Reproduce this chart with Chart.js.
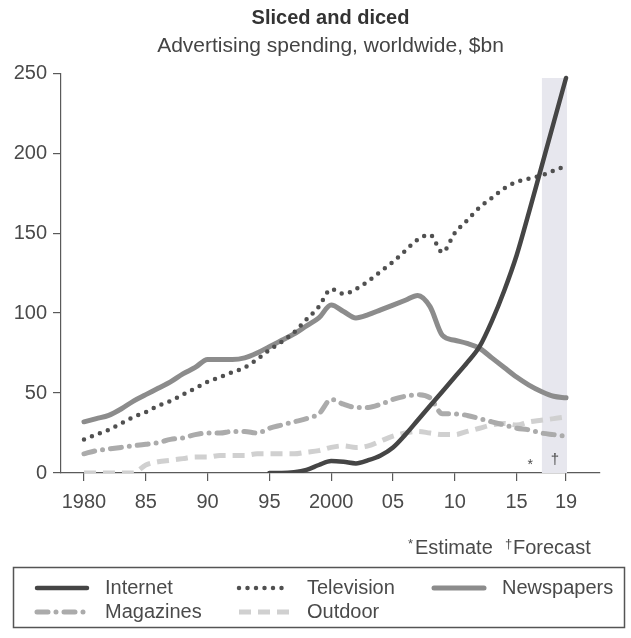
<!DOCTYPE html>
<html>
<head>
<meta charset="utf-8">
<title>Sliced and diced</title>
<script src="https://cdn.jsdelivr.net/npm/chart.js@4.4.1/dist/chart.umd.min.js"></script>
<style>
  html, body { margin: 0; padding: 0; background: #fff; }
  #wrap { width: 631px; height: 638px; }
</style>
</head>
<body>
<div id="wrap"><canvas id="adChart" width="631" height="638"></canvas></div>
<script>
// Advertising spending, worldwide, $bn
const years = [1980, 1981, 1982, 1983, 1984, 1985, 1986, 1987, 1988, 1989,
               1990, 1991, 1992, 1993, 1994, 1995, 1996, 1997, 1998, 1999,
               2000, 2001, 2002, 2003, 2004, 2005, 2006, 2007, 2008, 2009,
               2010, 2011, 2012, 2013, 2014, 2015, 2016, 2017, 2018, 2019];

const internet = [null, null, null, null, null, null, null, null, null, null,
                  null, null, null, null, null, 0, 0, 0.5, 2, 5,
                  7.5, 7, 6, 8, 11, 16, 24, 33, 42, 51,
                  60, 69, 79, 95, 114, 136, 163, 191, 219, 247];

const television = [21, 24, 27, 31, 35, 38, 42, 45, 49, 53,
                    57, 60, 63, 66, 71, 77, 82, 88, 96, 104,
                    115, 112, 115, 120, 126, 132, 139, 146, 149, 138,
                    150, 158, 166, 172, 178, 182, 184, 186, 189, 192];

const newspapers = [32, 34, 36, 40, 45, 49, 53, 57, 62, 66,
                    71, 71, 71, 72, 75, 79, 83, 87, 92, 97,
                    105, 101, 97, 99, 102, 105, 108, 111, 104, 86,
                    83, 81, 78, 72, 66, 60, 55, 51, 48, 47];

const magazines = [12, 14, 15, 16, 17, 18, 19, 21, 22, 24,
                   25, 25, 26, 26, 25, 28, 30, 32, 34, 37,
                   46, 43, 41, 41, 43, 46, 48, 49, 47, 37,
                   37, 36, 34, 32, 30, 28, 27, 25, 24, 23];

const outdoor = [0, 0, 0, 0, 0, 5, 7, 8, 9, 10,
                 10, 11, 11, 11, 12, 12, 12, 12, 13, 14,
                 16, 17, 16, 17, 20, 23, 25, 26, 25, 24,
                 24, 26, 28, 30, 31, 30, 32, 33, 34, 35];

const xTickYears = [1980, 1985, 1990, 1995, 2000, 2005, 2010, 2015, 2019];
const xTickLabels = ['1980', '85', '90', '95', '2000', '05', '10', '15', '19'];
const yTickValues = [0, 50, 100, 150, 200, 250];

const estimateYear = 2016.1;
const forecastYear = 2018.1;
const forecastBand = [2017.05, 2019.08];

const FONT = "'Liberation Sans', Arial, Helvetica, sans-serif";
const INK = '#4a4a4a';
const AXIS = '#5a5a5a';

Chart.defaults.font.family = FONT;
Chart.defaults.color = INK;

function toPoints(values) {
    return years.map((yr, i) => ({ x: yr, y: values[i] }));
}

// shaded forecast column and the * / † marks above the axis
const forecastShade = {
    id: 'forecastShade',
    beforeDatasetsDraw(chart) {
        const { ctx, scales: { x, y } } = chart;
        const left = x.getPixelForValue(forecastBand[0]);
        const right = x.getPixelForValue(forecastBand[1]);
        const top = y.getPixelForValue(247);
        const bottom = y.getPixelForValue(0);
        ctx.save();
        ctx.fillStyle = '#e7e7ee';
        ctx.fillRect(left, top, right - left, bottom - top);

        ctx.fillStyle = INK;
        ctx.textAlign = 'center';
        ctx.textBaseline = 'middle';
        ctx.font = '14px ' + FONT;
        ctx.fillText('*', x.getPixelForValue(estimateYear), y.getPixelForValue(5));
        ctx.font = '15px ' + FONT;
        ctx.fillText('\u2020', x.getPixelForValue(forecastYear), y.getPixelForValue(8));
        ctx.restore();
    }
};

// footnote and boxed key under the chart
const notesAndKey = {
    id: 'notesAndKey',
    afterDraw(chart) {
        const ctx = chart.ctx;
        ctx.save();
        ctx.fillStyle = INK;
        ctx.textBaseline = 'alphabetic';
        ctx.textAlign = 'left';

        // *Estimate  †Forecast
        ctx.font = '13px ' + FONT;
        ctx.fillText('*', 408, 548);
        ctx.font = '20px ' + FONT;
        ctx.fillText('Estimate', 415, 554);
        ctx.font = '13px ' + FONT;
        ctx.fillText('\u2020', 505, 548);
        ctx.font = '20px ' + FONT;
        ctx.fillText('Forecast', 513, 554);

        // key box
        ctx.strokeStyle = '#555';
        ctx.lineWidth = 1.5;
        ctx.strokeRect(13.5, 567.5, 611, 60);

        const slots = [
            { i: 0, x: 35, y: 588 },
            { i: 1, x: 237, y: 588 },
            { i: 2, x: 432, y: 588 },
            { i: 3, x: 35, y: 612 },
            { i: 4, x: 237, y: 612 }
        ];
        slots.forEach(s => {
            const ds = chart.data.datasets[s.i];
            ctx.save();
            ctx.strokeStyle = ds.borderColor;
            ctx.lineWidth = ds.borderWidth;
            ctx.lineCap = ds.borderCapStyle || 'butt';
            ctx.setLineDash(ds.borderDash || []);
            ctx.beginPath();
            ctx.moveTo(s.x + 2, s.y);
            ctx.lineTo(s.x + 52, s.y);
            ctx.stroke();
            ctx.restore();

            ctx.fillStyle = INK;
            ctx.font = '20px ' + FONT;
            ctx.textBaseline = 'middle';
            ctx.fillText(ds.label, s.x + 70, s.y);
        });
        ctx.restore();
    }
};

const ctx = document.getElementById('adChart').getContext('2d');
new Chart(ctx, {
    type: 'line',
    data: {
        datasets: [
            {
                label: 'Internet',
                data: toPoints(internet),
                borderColor: '#454545',
                borderWidth: 4.5,
                borderCapStyle: 'round'
            },
            {
                label: 'Television',
                data: toPoints(television),
                borderColor: '#505050',
                borderWidth: 4.5,
                borderDash: [0, 8.5],
                borderCapStyle: 'round'
            },
            {
                label: 'Newspapers',
                data: toPoints(newspapers),
                borderColor: '#8c8c8c',
                borderWidth: 5,
                borderCapStyle: 'round'
            },
            {
                label: 'Magazines',
                data: toPoints(magazines),
                borderColor: '#ababab',
                borderWidth: 5,
                borderDash: [11, 8, 0, 8],
                borderCapStyle: 'round'
            },
            {
                label: 'Outdoor',
                data: toPoints(outdoor),
                borderColor: '#d0d0d0',
                borderWidth: 5,
                borderDash: [12, 7]
            }
        ]
    },
    options: {
        responsive: false,
        animation: false,
        devicePixelRatio: 1,
        layout: { padding: { top: 5, right: 31, bottom: 0, left: 0 } },
        elements: {
            point: { radius: 0, hoverRadius: 0 },
            line: { cubicInterpolationMode: 'monotone', fill: false }
        },
        scales: {
            x: {
                type: 'linear',
                min: 1978.14,
                max: 2021.75,
                afterBuildTicks: scale => {
                    scale.ticks = xTickYears.map(v => ({ value: v }));
                },
                afterFit: scale => { scale.height = 165; },
                ticks: {
                    autoSkip: false,
                    maxRotation: 0,
                    padding: 9,
                    color: INK,
                    font: { size: 20 },
                    callback: (value, index) => xTickLabels[index]
                },
                grid: { drawOnChartArea: false, drawTicks: true, tickLength: 8, color: AXIS, lineWidth: 1.2 },
                border: { display: true, color: AXIS, width: 1.2 }
            },
            y: {
                min: 0,
                max: 250,
                afterBuildTicks: scale => {
                    scale.ticks = yTickValues.map(v => ({ value: v }));
                },
                afterFit: scale => { scale.width = 61; },
                ticks: {
                    padding: 6,
                    color: INK,
                    font: { size: 20 }
                },
                grid: { drawOnChartArea: false, drawTicks: true, tickLength: 8, color: AXIS, lineWidth: 1.2 },
                border: { display: true, color: AXIS, width: 1.2 }
            }
        },
        plugins: {
            legend: { display: false },
            tooltip: { enabled: false },
            title: {
                display: true,
                fullSize: false,
                text: 'Sliced and diced',
                color: '#333',
                font: { size: 20, weight: 'bold' },
                padding: { top: 1, bottom: 4 }
            },
            subtitle: {
                display: true,
                fullSize: false,
                text: 'Advertising spending, worldwide, $bn',
                color: '#444',
                font: { size: 21 },
                padding: { top: 0, bottom: 14 }
            }
        }
    },
    plugins: [forecastShade, notesAndKey]
});
</script>
</body>
</html>
